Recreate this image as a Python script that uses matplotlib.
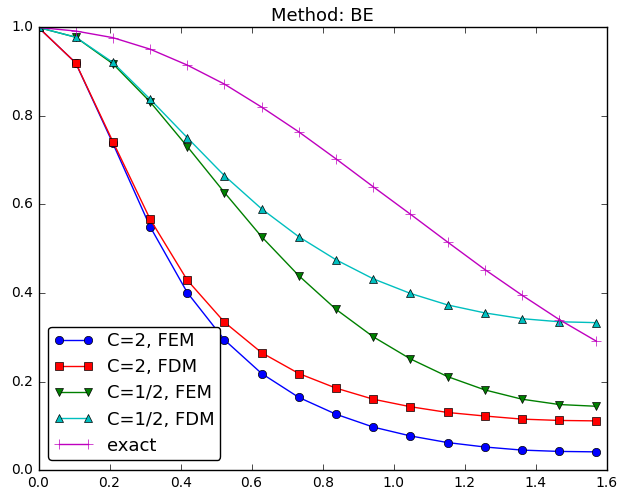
import numpy as np
import matplotlib
matplotlib.use('Agg')
import matplotlib.pyplot as plt

plt.style.use('classic')
plt.rcParams['figure.facecolor'] = 'white'
plt.rcParams['savefig.facecolor'] = 'white'
plt.rcParams['font.family'] = ['DejaVu Sans']

# grid points on [0, pi/2]
x = np.linspace(0, np.pi/2, 16)

fem_c2 = [1.0, 0.920, 0.738, 0.550, 0.401, 0.294, 0.218, 0.164,
          0.126, 0.097, 0.077, 0.062, 0.052, 0.045, 0.042, 0.041]
fdm_c2 = [1.0, 0.920, 0.742, 0.567, 0.429, 0.334, 0.265, 0.218,
          0.185, 0.160, 0.143, 0.130, 0.122, 0.115, 0.112, 0.111]
fem_ch = [1.0, 0.978, 0.918, 0.832, 0.731, 0.627, 0.527, 0.439,
          0.363, 0.301, 0.251, 0.211, 0.181, 0.160, 0.148, 0.144]
fdm_ch = [1.0, 0.978, 0.921, 0.838, 0.751, 0.665, 0.590, 0.527,
          0.475, 0.432, 0.399, 0.373, 0.355, 0.342, 0.335, 0.333]
exact = [1.0, 0.992, 0.977, 0.951, 0.915, 0.872, 0.820, 0.764,
         0.703, 0.640, 0.578, 0.515, 0.453, 0.395, 0.340, 0.291]

fig = plt.figure(figsize=(6.23, 4.96), dpi=100)
ax = fig.add_axes([0.0618, 0.0524, 0.9122, 0.8922])

ms = 6
ax.plot(x, fem_c2, 'b-o', markersize=ms, label='C=2, FEM')
ax.plot(x, fdm_c2, 'r-s', markersize=ms, label='C=2, FDM')
ax.plot(x, fem_ch, 'g-v', markersize=ms, label='C=1/2, FEM')
ax.plot(x, fdm_ch, 'c-^', markersize=ms, label='C=1/2, FDM')
ax.plot(x, exact, 'm-+', markersize=7, label='exact')

ax.set_xlim(0, 1.6)
ax.set_ylim(0, 1.0)
ax.tick_params(labelsize=10)
ax.set_title('Method: BE', fontsize=13)
ax.legend(loc='lower left', fontsize=13, fancybox=True, borderpad=0.3,
          labelspacing=0.45, handlelength=2.2, handletextpad=0.75,
          borderaxespad=0.55)

fig.savefig('out.png', dpi=100)
